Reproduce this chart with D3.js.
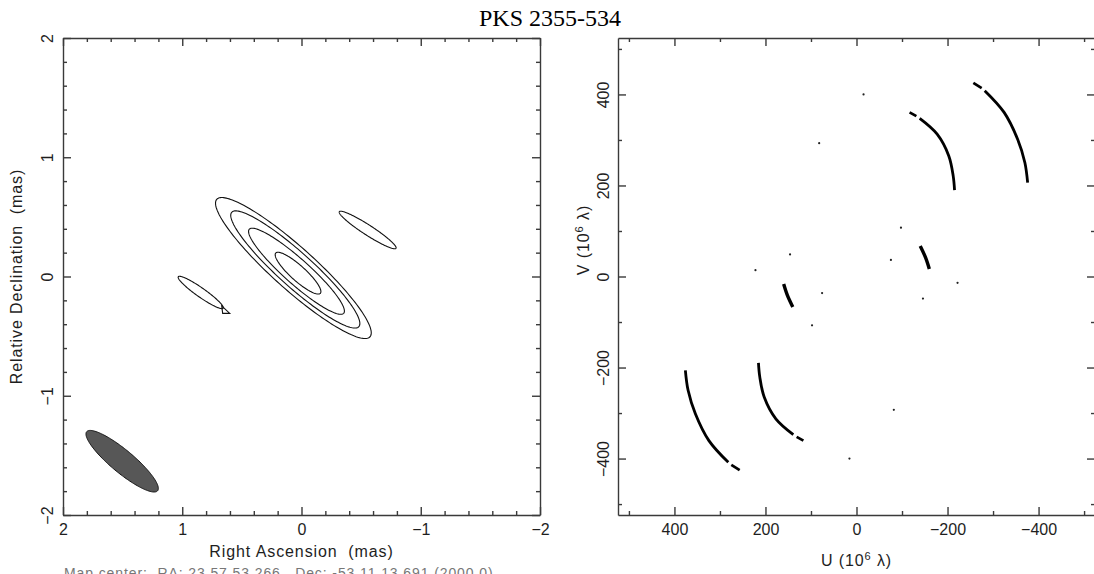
<!DOCTYPE html>
<html>
<head>
<meta charset="utf-8">
<script src="https://cdn.jsdelivr.net/npm/d3@7"></script>
<style>
  body { margin: 0; background: #fff; }
  svg { display: block; }
  .axis text { font-family: "Liberation Sans", Arial, sans-serif; font-size: 16px; fill: #1e1e1e; }
  .axis path, .axis line { stroke: #3a3a3a; stroke-width: 1.4; }
  .lbl { font-family: "Liberation Sans", Arial, sans-serif; font-size: 16px; fill: #1e1e1e; letter-spacing: 0.9px; }
</style>
</head>
<body>
<script>
// ---------------- data ----------------
const title = "PKS 2355-534";
const footer = "Map center:  RA: 23 57 53.266,  Dec: -53 11 13.691 (2000.0)";

// map panel, milliarcseconds
const mapTicks = [2, 1, 0, -1, -2];
// contours as ellipses: centre (RA, Dec), semi-axes, position angle (deg, N through E)
const cntRA  = [0.068, 0.052, 0.042, 0.029, -0.555, 0.845];
const cntDec = [0.071, 0.059, 0.044, 0.028,  0.390, -0.134];
const cntMaj = [0.863, 0.717, 0.530, 0.252,  0.283, 0.230];
const cntMin = [0.176, 0.143, 0.105, 0.063,  0.042, 0.038];
const cntPA  = [48.1, 48.0, 48.3, 47.9, 57.1, 54.9];
// little notch on the lower-left sidelobe
const notchRA  = [0.669, 0.602, 0.661];
const notchDec = [-0.247, -0.309, -0.309];
// restoring beam
const beam = { ra: 1.504, dec: -1.549, maj: 0.387, min: 0.095, pa: 50.2 };

// uv panel, 10^6 wavelengths (one half; conjugate points are drawn too)
const uvTicks = [400, 200, 0, -200, -400];
const trackA1 = [[-256.7, 425.3], [-275.0, 414.0]];
const trackA2 = [[-281.7, 408.3], [-324.3, 360.6], [-354.0, 301.6], [-370.0, 250.0], [-376.0, 206.0]];
const trackB1 = [[-116.7, 360.6], [-131.5, 352.4]];
const trackB2 = [[-138.8, 347.3], [-177.2, 312.6], [-202.8, 264.7], [-212.5, 220.5], [-215.4, 189.6]];
const trackC  = [[-140.0, 67.0], [-152.0, 41.0], [-160.0, 16.6]];
const uvDots  = [[-15.5, 400], [82, 293], [146, 48.6], [222, 14], [75.6, -36.5], [97.7, -107.2]];

// ---------------- layout ----------------
const W = 1094, H = 574;
const P1 = { x0: 63, x1: 540, y0: 38, y1: 515 };
const P2 = { x0: 618, x1: 1095, y0: 38, y1: 515 };
const uvR = 524;

const svg = d3.select("body").append("svg")
    .attr("width", W).attr("height", H);

const fmt = d => d < 0 ? "\u2212" + Math.abs(d) : String(d);

function frame(x, y, p, majors, nMinor, padX, padY) {
    const minors = x.ticks(nMinor).filter(t => !majors.includes(t));
    const minorsY = y.ticks(nMinor).filter(t => !majors.includes(t));

    svg.append("g").attr("class", "axis")
        .attr("transform", `translate(0,${p.y1})`)
        .call(d3.axisBottom(x).tickValues(majors).tickSize(-8).tickSizeOuter(0)
            .tickPadding(padX).tickFormat(fmt));
    svg.append("g").attr("class", "axis")
        .attr("transform", `translate(0,${p.y1})`)
        .call(d3.axisBottom(x).tickValues(minors).tickSize(-4).tickFormat(""))
        .select(".domain").remove();
    svg.append("g").attr("class", "axis")
        .attr("transform", `translate(0,${p.y0})`)
        .call(d3.axisTop(x).tickValues(majors).tickSize(-8).tickSizeOuter(0).tickFormat(""));
    svg.append("g").attr("class", "axis")
        .attr("transform", `translate(0,${p.y0})`)
        .call(d3.axisTop(x).tickValues(minors).tickSize(-4).tickFormat(""))
        .select(".domain").remove();

    const left = svg.append("g").attr("class", "axis")
        .attr("transform", `translate(${p.x0},0)`)
        .call(d3.axisLeft(y).tickValues(majors).tickSize(-8).tickSizeOuter(0).tickFormat(fmt));
    left.selectAll("text")
        .attr("transform", "rotate(-90)")
        .attr("x", 0).attr("y", -padY).attr("dy", 0)
        .attr("text-anchor", "middle");
    svg.append("g").attr("class", "axis")
        .attr("transform", `translate(${p.x0},0)`)
        .call(d3.axisLeft(y).tickValues(minorsY).tickSize(-4).tickFormat(""))
        .select(".domain").remove();
    svg.append("g").attr("class", "axis")
        .attr("transform", `translate(${p.x1},0)`)
        .call(d3.axisRight(y).tickValues(majors).tickSize(-8).tickSizeOuter(0).tickFormat(""));
    svg.append("g").attr("class", "axis")
        .attr("transform", `translate(${p.x1},0)`)
        .call(d3.axisRight(y).tickValues(minorsY).tickSize(-4).tickFormat(""))
        .select(".domain").remove();
}

// ---------------- left: map ----------------
const xm = d3.scaleLinear().domain([2, -2]).range([P1.x0, P1.x1]);
const ym = d3.scaleLinear().domain([-2, 2]).range([P1.y1, P1.y0]);

function ellipse(ra, dec, a, b, paDeg) {
    const pa = paDeg * Math.PI / 180;
    const ma = [Math.sin(pa), Math.cos(pa)];     // major axis direction (RA, Dec)
    const mi = [Math.cos(pa), -Math.sin(pa)];
    return d3.range(0, 2 * Math.PI, Math.PI / 90).map(t => [
        ra + a * Math.cos(t) * ma[0] + b * Math.sin(t) * mi[0],
        dec + a * Math.cos(t) * ma[1] + b * Math.sin(t) * mi[1]
    ]);
}
const mapLine = d3.line().x(d => xm(d[0])).y(d => ym(d[1])).curve(d3.curveLinearClosed);

svg.append("g").selectAll("path")
    .data(cntRA.map((r, i) => ellipse(r, cntDec[i], cntMaj[i], cntMin[i], cntPA[i])))
    .join("path")
    .attr("d", mapLine)
    .attr("fill", "none").attr("stroke", "#111").attr("stroke-width", 1.1);

svg.append("path")
    .attr("d", mapLine(notchRA.map((r, i) => [r, notchDec[i]])))
    .attr("fill", "none").attr("stroke", "#111").attr("stroke-width", 1.1);

svg.append("path")
    .attr("d", mapLine(ellipse(beam.ra, beam.dec, beam.maj, beam.min, beam.pa)))
    .attr("fill", "#575757").attr("stroke", "#111").attr("stroke-width", 1);

frame(xm, ym, P1, mapTicks, 20, 9, 10);

svg.append("text").attr("class", "lbl")
    .attr("x", (P1.x0 + P1.x1) / 2).attr("y", 557).attr("text-anchor", "middle")
    .style("white-space", "pre").text("Right Ascension  (mas)");
svg.append("text").attr("class", "lbl")
    .attr("transform", `translate(22,${(P1.y0 + P1.y1) / 2}) rotate(-90)`)
    .attr("text-anchor", "middle")
    .style("white-space", "pre").text("Relative Declination  (mas)");

// ---------------- right: uv coverage ----------------
const xu = d3.scaleLinear().domain([uvR, -uvR]).range([P2.x0, P2.x1]);
const yu = d3.scaleLinear().domain([-uvR, uvR]).range([P2.y1, P2.y0]);
const uvLine = d3.line().x(d => xu(d[0])).y(d => yu(d[1])).curve(d3.curveCatmullRom);

const tracks = [trackA1, trackA2, trackB1, trackB2, trackC];
const allTracks = tracks.concat(tracks.map(t => t.map(d => [-d[0], -d[1]])));
svg.append("g").selectAll("path")
    .data(allTracks)
    .join("path")
    .attr("d", uvLine)
    .attr("fill", "none").attr("stroke", "#000")
    .attr("stroke-width", (d, i) => (i % 5 === 4 ? 3.4 : 2.8));

const allDots = uvDots.concat(uvDots.map(d => [-d[0], -d[1]]));
svg.append("g").selectAll("circle")
    .data(allDots)
    .join("circle")
    .attr("cx", d => xu(d[0])).attr("cy", d => yu(d[1]))
    .attr("r", 1.1).attr("fill", "#222");

frame(xu, yu, P2, uvTicks, 10, 9, 9);

const uLab = svg.append("text").attr("class", "lbl")
    .attr("x", (P2.x0 + P2.x1) / 2).attr("y", 566).attr("text-anchor", "middle");
uLab.append("tspan").text("U (10");
uLab.append("tspan").attr("dy", -6).style("font-size", "11px").text("6");
uLab.append("tspan").attr("dy", 6).text(" \u03bb)");

const vLab = svg.append("text").attr("class", "lbl")
    .attr("transform", "translate(589,240) rotate(-90)")
    .attr("text-anchor", "middle");
vLab.append("tspan").text("V (10");
vLab.append("tspan").attr("dy", -6).style("font-size", "11px").text("6");
vLab.append("tspan").attr("dy", 6).text(" \u03bb)");

// ---------------- title & footer ----------------
svg.append("text")
    .attr("x", W / 2 + 3).attr("y", 26).attr("text-anchor", "middle")
    .style("font-family", "'Liberation Serif', 'Times New Roman', serif")
    .style("font-size", "24px").attr("fill", "#000")
    .text(title);

svg.append("text")
    .attr("x", 64).attr("y", 578)
    .style("font-family", "'Liberation Sans', Arial, sans-serif")
    .style("font-size", "14px").style("letter-spacing", "0.9px")
    .style("white-space", "pre").attr("fill", "#777")
    .text(footer);
</script>
</body>
</html>
